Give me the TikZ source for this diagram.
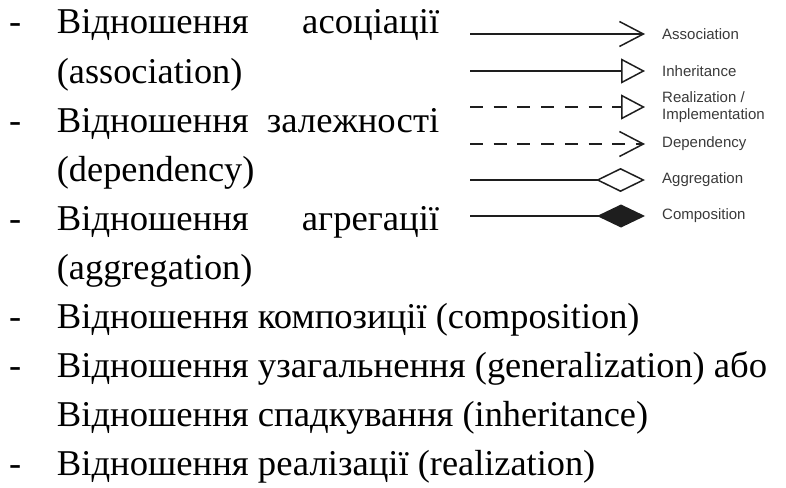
\documentclass[tikz,border=0pt]{standalone}
\usepackage{fontspec}
\setmainfont{Liberation Serif}
% Cyrillic words are set slightly wider, as in Times New Roman
\newfontfamily\cyrfont[FakeStretch=1.01]{Liberation Serif}
\newcommand{\cy}[1]{{\cyrfont #1}}
\newfontfamily\legendfont{Liberation Sans}
\usetikzlibrary{arrows.meta}

\definecolor{inkline}{HTML}{1E1E1E}
\definecolor{inklabel}{HTML}{3A3A3A}

\begin{document}
\begin{tikzpicture}[x=1pt,y=-1pt,
  listtext/.style={anchor=base west, inner sep=0pt, font=\fontsize{36.3}{44}\selectfont},
  bullet/.style={anchor=base west, inner sep=0pt, font=\fontsize{36.3}{44}\selectfont},
  legendlabel/.style={anchor=west, inner sep=0pt, align=left, text=inklabel,
    font=\legendfont\fontsize{15}{17}\selectfont},
  relline/.style={draw=inkline, line width=1.5pt},
  dashline/.style={relline, dash pattern=on 13pt off 10.7pt},
  assochead/.style={-{Straight Barb[length=24pt,width=25pt,line width=1.5pt]}},
  inherhead/.style={-{Triangle[open,length=24pt,width=25pt,line width=1.5pt,fill=white]}},
  aggrhead/.style={-{Diamond[open,length=49pt,width=24pt,line width=1.5pt,fill=white]}},
  comphead/.style={-{Diamond[length=48pt,width=23pt,line width=1.5pt,fill=inkline]}}]
\useasboundingbox (0,0) rectangle (786,487);

% list of relation kinds
\node[bullet] (d1) at (9,34) {-};
\node[listtext] (l1) at (56.7,34) {\hbox to 382.3pt{\cy{Відношення}\hfill\cy{асоціації}}};
\node[listtext] (l2) at (56.7,83.1) {(association)};
\node[bullet] (d3) at (9,132.2) {-};
\node[listtext] (l3) at (56.7,132.2) {\hbox to 382.3pt{\cy{Відношення} \hfil\cy{залежності}}};
\node[listtext] (l4) at (56.7,181.3) {(dependency)};
\node[bullet] (d5) at (9,230.4) {-};
\node[listtext] (l5) at (56.7,230.4) {\hbox to 382.3pt{\cy{Відношення}\hfill\cy{агрегації}}};
\node[listtext] (l6) at (56.7,279.5) {(aggregation)};
\node[bullet] (d7) at (9,328.6) {-};
\node[listtext] (l7) at (56.7,328.6) {\cy{Відношення композиції} (composition)};
\node[bullet] (d8) at (9,377.7) {-};
\node[listtext] (l8) at (56.7,377.7) {\hbox to 710.3pt{\cy{Відношення} \hfil \cy{узагальнення} \hfil (generalization) \hfil \cy{або}}};
\node[listtext] (l9) at (56.7,426.8) {\cy{Відношення спадкування} (inheritance)};
\node[bullet] (d10) at (9,475.9) {-};
\node[listtext] (l10) at (56.7,475.9) {\cy{Відношення реалізації} (realization)};

% UML connector legend
\coordinate (s1) at (470,34);  \coordinate (e1) at (645,34);
\coordinate (s2) at (470,71);  \coordinate (e2) at (645,71);
\coordinate (s3) at (470,107); \coordinate (e3) at (645,107);
\coordinate (s4) at (470,144); \coordinate (e4) at (645,144);
\coordinate (s5) at (470,180); \coordinate (e5) at (645,180);
\coordinate (s6) at (470,216); \coordinate (e6) at (645,216);

\draw[relline, assochead] (s1) -- (e1);
\draw[relline, inherhead] (s2) -- (e2);
\draw[dashline, inherhead] (s3) -- (e3);
\draw[dashline, assochead] (s4) -- (e4);
\draw[relline, aggrhead] (s5) -- (e5);
\draw[relline, comphead] (s6) -- (e6);

\node[legendlabel] (t1) at (662,34) {Association};
\node[legendlabel] (t2) at (662,71) {Inheritance};
\node[legendlabel] (t3) at (662,107) {Realization /\\Implementation};
\node[legendlabel] (t4) at (662,144) {Dependency};
\node[legendlabel] (t5) at (662,180) {Aggregation};
\node[legendlabel] (t6) at (662,216) {Composition};
\end{tikzpicture}
\end{document}
